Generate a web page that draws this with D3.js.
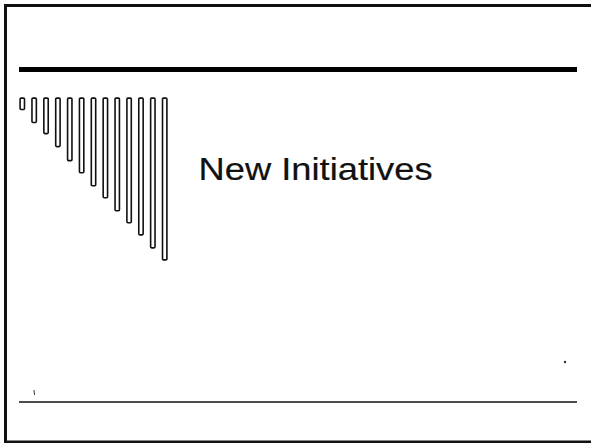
<!DOCTYPE html>
<html>
<head>
<meta charset="utf-8">
<script src="https://cdn.jsdelivr.net/npm/d3@7"></script>
<style>
  html, body { margin: 0; padding: 0; background: #fff; }
  svg { display: block; }
</style>
</head>
<body>
<svg id="chart" width="591" height="443"></svg>
<script>
// Decorative "bar staircase" values (bar lengths, px-like units)
const barIndex = ["1","2","3","4","5","6","7","8","9","10","11","12","13"];
const barLength = [13, 26, 37, 50, 64, 76, 89, 101, 114, 126, 138, 151, 163];
const titleText = ["New Initiatives"];

const svg = d3.select("#chart");
const W = 591, H = 443;

svg.append("rect").attr("width", W).attr("height", H).attr("fill", "#fff");

// Slide frame (left, top, bottom edges)
svg.append("path")
  .attr("d", d3.line()([[W, 5.5], [5.5, 5.5], [5.5, 442], [W, 442]]))
  .attr("fill", "none")
  .attr("stroke", "#111")
  .attr("stroke-width", 3);

// Top thick rule
svg.append("line")
  .attr("x1", 19).attr("x2", 577)
  .attr("y1", 69.5).attr("y2", 69.5)
  .attr("stroke", "#000").attr("stroke-width", 5);

// Bottom thin rule
svg.append("line")
  .attr("x1", 19).attr("x2", 577)
  .attr("y1", 402).attr("y2", 402)
  .attr("stroke", "#111").attr("stroke-width", 1.6);

// Bars
const x = d3.scaleBand()
  .domain(barIndex)
  .range([19.3, 167.7])
  .paddingInner(0.495)
  .paddingOuter(0);

const y = d3.scaleLinear()
  .domain([0, d3.max(barLength)])
  .range([97.3, 260.7]);

svg.append("g")
  .selectAll("rect")
  .data(barLength)
  .join("rect")
  .attr("x", (d, i) => x(barIndex[i]) + 0.8)
  .attr("y", y(0) + 0.8)
  .attr("width", x.bandwidth() - 1.6)
  .attr("height", d => y(d) - y(0) - 1.6)
  .attr("rx", 1)
  .attr("fill", "#fff")
  .attr("stroke", "#111")
  .attr("stroke-width", 1.6);

// Title
svg.append("text")
  .attr("transform", "translate(198.5,180) scale(1.135,1)")
  .attr("font-family", "'Liberation Sans', Arial, sans-serif")
  .attr("font-size", 32)
  .attr("fill", "#111")
  .attr("stroke", "#111")
  .attr("stroke-width", 0.2)
  .text(titleText[0]);

// small scan specks
svg.append("line")
  .attr("x1", 34).attr("x2", 34.5).attr("y1", 390).attr("y2", 395)
  .attr("stroke", "#333").attr("stroke-width", 1);
svg.append("circle")
  .attr("cx", 565).attr("cy", 362).attr("r", 1.2).attr("fill", "#333");
</script>
</body>
</html>
